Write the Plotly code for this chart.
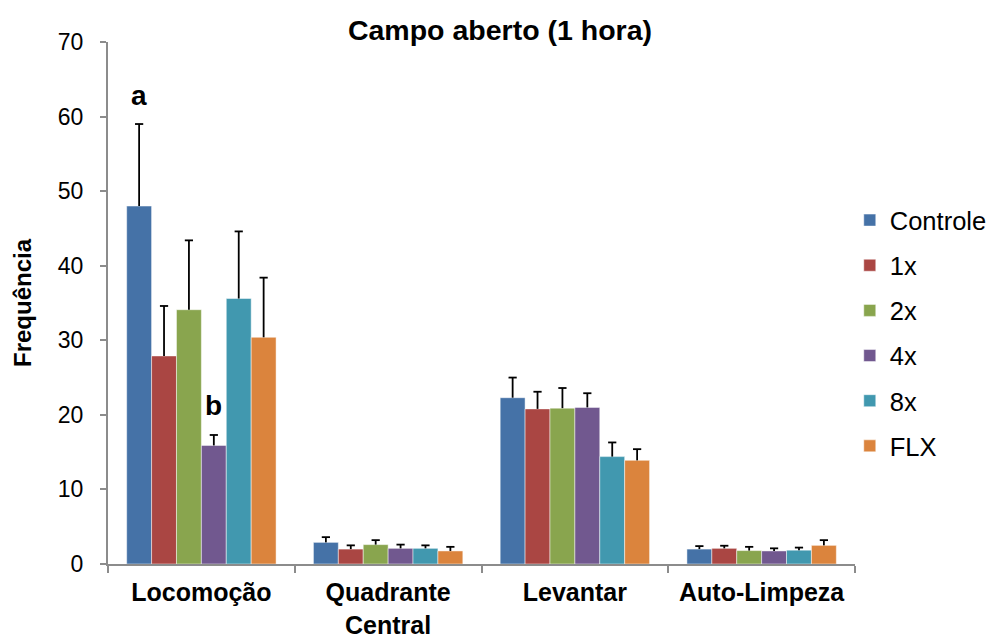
import plotly.graph_objects as go

categories = ["Locomoção", "Quadrante<br>Central", "Levantar", "Auto-Limpeza"]
groups = ["Controle", "1x", "2x", "4x", "8x", "FLX"]
colors = ["#4572A7", "#AA4643", "#89A54E", "#71588F", "#4198AF", "#DB843D"]

means = {
    "Controle": [48.0, 2.9, 22.3, 2.0],
    "1x": [27.9, 2.0, 20.8, 2.1],
    "2x": [34.1, 2.6, 20.9, 1.8],
    "4x": [15.9, 2.1, 21.0, 1.75],
    "8x": [35.6, 2.1, 14.4, 1.85],
    "FLX": [30.4, 1.75, 13.9, 2.5],
}
errors = {
    "Controle": [11.0, 0.7, 2.7, 0.4],
    "1x": [6.7, 0.5, 2.3, 0.35],
    "2x": [9.3, 0.6, 2.7, 0.5],
    "4x": [1.4, 0.5, 1.9, 0.35],
    "8x": [9.0, 0.4, 1.9, 0.35],
    "FLX": [8.0, 0.55, 1.5, 0.7],
}

# significance letters: (category, group, letter)
letters = [("Locomoção", "Controle", "a"), ("Locomoção", "4x", "b")]

font = "Liberation Sans, Arial, sans-serif"
bargap = 0.2
n = len(groups)
bar_w = (1 - bargap) / n
cap = 0.022  # half width of the error-bar cap, in category units


def offset(gi):
    return (gi - (n - 1) / 2) * bar_w


fig = go.Figure()
for gi, (g, c) in enumerate(zip(groups, colors)):
    fig.add_trace(go.Bar(
        name=g, x=categories, y=means[g], marker_color=c,
        marker_line=dict(width=0.8, color="rgba(255,255,255,0.6)"),
        legendgroup=g,
    ))

# upper error bars (stem + cap) drawn on an overlaid numeric axis
for gi, g in enumerate(groups):
    xs, ys = [], []
    for ci in range(len(categories)):
        xc = ci + offset(gi)
        m, e = means[g][ci], errors[g][ci]
        xs += [xc, xc, None, xc - cap, xc + cap, None]
        ys += [m, m + e, None, m + e, m + e, None]
    fig.add_trace(go.Scatter(
        x=xs, y=ys, xaxis="x2", mode="lines",
        line=dict(color="black", width=1.8),
        showlegend=False, hoverinfo="skip", legendgroup=g,
    ))

for cat, g, lt in letters:
    ci = categories.index(cat)
    gi = groups.index(g)
    top = means[g][ci] + errors[g][ci]
    fig.add_annotation(x=ci + offset(gi), y=top, text=f"<b>{lt}</b>",
                       showarrow=False, yshift=29, xref="x2", yref="y",
                       font=dict(family=font, size=28, color="black"))

fig.update_layout(
    width=992, height=637,
    margin=dict(l=108, r=137, t=42, b=73, autoexpand=False),
    paper_bgcolor="white", plot_bgcolor="white",
    barmode="group", bargap=bargap, bargroupgap=0,
    font=dict(family=font, color="black"),
    title=dict(text="<b>Campo aberto (1 hora)</b>", x=0.504, xref="container",
               y=0.953, yref="container", xanchor="center", yanchor="middle",
               font=dict(size=28.5, family=font, color="black")),
    legend=dict(x=0.993, xanchor="left", y=0.4425, yanchor="middle",
                font=dict(size=25.5, family=font, color="black"),
                tracegroupgap=9, itemwidth=30),
    showlegend=True,
    xaxis2=dict(overlaying="x", range=[-0.5, len(categories) - 0.5],
                visible=False, showgrid=False, zeroline=False),
)
fig.layout.xaxis.update(
    type="category", showline=True, linecolor="#8C8C8C", linewidth=2,
    ticks="outside", tickson="boundaries", ticklen=7, tickcolor="#8C8C8C",
    tickwidth=2, showgrid=False, automargin=False,
    tickvals=categories, ticktext=[f"<b>{c}</b>" for c in categories],
    tickfont=dict(size=25, family=font, color="black"),
    ticklabelstandoff=5,
)
fig.update_yaxes(
    range=[0, 70], dtick=10, showline=True, linecolor="#8C8C8C", linewidth=2,
    ticks="outside", ticklen=6, tickcolor="#8C8C8C", tickwidth=1.5,
    showgrid=False, zeroline=False, automargin=False,
    tickfont=dict(size=23, family=font, color="black"),
    ticklabelstandoff=12,
    title=dict(text="<b>Frequência</b>", font=dict(size=24, family=font, color="black"),
               standoff=19),
)

fig.write_html("out.html")
